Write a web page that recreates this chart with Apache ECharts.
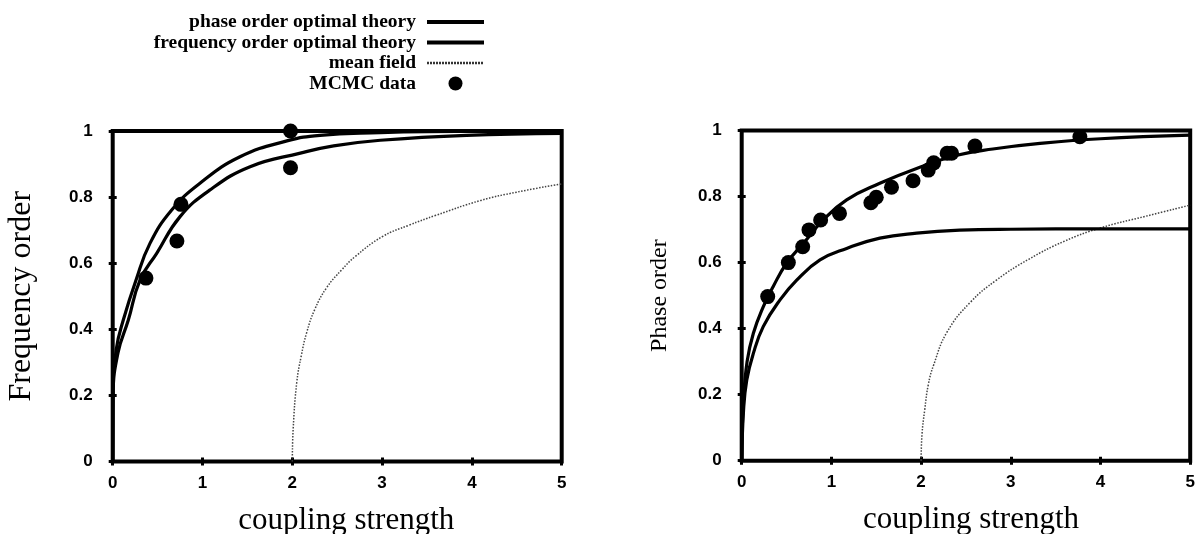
<!DOCTYPE html>
<html>
<head>
<meta charset="utf-8">
<script src="https://cdn.jsdelivr.net/npm/echarts@6/dist/echarts.min.js"></script>
<style>
html,body{margin:0;padding:0;background:#fff;}
#chart{width:1201px;height:534px;}
</style>
</head>
<body>
<div id="chart"></div>
<script>
// ---------- data ----------
const xTicks = [0, 1, 2, 3, 4, 5];
const yTicks = [0, 0.2, 0.4, 0.6, 0.8, 1];
const legendNames = ['phase order optimal theory', 'frequency order optimal theory', 'mean field', 'MCMC data'];
const xTitle = 'coupling strength';
const leftYTitle = 'Frequency order';
const rightYTitle = 'Phase order';

// Left panel (Frequency order)
const leftPhaseTheory = [[0,0],[0.003,0.2],[0.04,0.34],[0.118,0.428],[0.26,0.549],[0.415,0.66],[0.657,0.761],[0.972,0.842],[1.418,0.922],[1.94,0.97],[2.31,0.987],[2.98,0.995],[3.5,0.998],[5,1.0]];
const leftFreqTheory = [[0,0],[0.004,0.2],[0.06,0.33],[0.174,0.428],[0.304,0.549],[0.49,0.63],[0.75,0.741],[1.08,0.821],[1.53,0.892],[2.09,0.933],[2.46,0.955],[2.98,0.972],[3.94,0.987],[5,0.993]];
const leftMeanField = [[2.0,0],[2.01,0.1],[2.05,0.24],[2.1,0.32],[2.16,0.39],[2.25,0.46],[2.38,0.525],[2.55,0.58],[2.7,0.62],[3.0,0.68],[3.3,0.715],[3.6,0.745],[4.1,0.79],[4.5,0.815],[5,0.84]];
const leftMCMC = [[0.37,0.555],[0.715,0.667],[0.76,0.778],[1.98,1.0],[1.98,0.889]];

// Right panel (Phase order)
const rightPhaseTheory = [[0,0],[0.018,0.174],[0.06,0.3],[0.13,0.386],[0.24,0.466],[0.35,0.527],[0.5,0.598],[0.687,0.658],[0.91,0.729],[1.17,0.79],[1.54,0.84],[1.95,0.885],[2.4,0.925],[2.8,0.944],[3.3,0.96],[4.0,0.975],[5,0.986]];
const rightFreqTheory = [[0,0],[0.02,0.15],[0.056,0.244],[0.13,0.325],[0.24,0.406],[0.427,0.487],[0.613,0.547],[0.873,0.608],[1.17,0.643],[1.54,0.674],[1.95,0.689],[2.43,0.698],[3,0.701],[4,0.702],[5,0.702]];
const rightMeanField = [[2.0,0],[2.01,0.08],[2.04,0.153],[2.08,0.23],[2.14,0.29],[2.29,0.39],[2.55,0.48],[2.84,0.547],[3.2,0.61],[3.6,0.665],[4.0,0.705],[4.5,0.74],[5,0.774]];
const rightMCMC = [[0.29,0.497],[0.52,0.60],[0.68,0.648],[0.75,0.699],[0.88,0.729],[1.09,0.749],[1.44,0.781],[1.5,0.798],[1.67,0.828],[1.91,0.848],[2.08,0.88],[2.14,0.902],[2.29,0.931],[2.34,0.931],[2.6,0.953],[3.77,0.981]];

// ---------- chart ----------
const serif = "'Liberation Serif','Times New Roman',serif";
const tickFont = "'Liberation Sans Narrow','Liberation Sans',sans-serif";

const grids = [
  {left:112.7, top:131, width:449, height:330.5},
  {left:741.7, top:130.5, width:448.5, height:330.2}
];

function xAxisPair(gi, shift){
  const base = {type:'value', gridIndex:gi, min:0, max:5, interval:1,
    splitLine:{show:false}, axisLine:{show:false},
    axisTick:{show:true, inside:true, length:4, lineStyle:{color:'#000', width:3}}};
  return [
    Object.assign({}, base, {position:'bottom',
      axisLabel:{show:true, margin:13, color:'#000', fontSize:17, fontWeight:'bold', fontFamily:tickFont,
        formatter:v=>String(v)},
      name:xTitle, nameLocation:'middle', nameGap:44,
      nameTextStyle:{fontFamily:serif, fontSize:31, color:'#000', padding:[0,0,0,shift]}}),
    Object.assign({}, base, {position:'top', axisLabel:{show:false}})
  ];
}
function yAxisPair(gi, title, gap, fs){
  const base = {type:'value', gridIndex:gi, min:0, max:1, interval:0.2,
    splitLine:{show:false}, axisLine:{show:false},
    axisTick:{show:true, inside:true, length:4, lineStyle:{color:'#000', width:3}}};
  return [
    Object.assign({}, base, {position:'left',
      axisLabel:{show:true, margin:20, color:'#000', fontSize:17, fontWeight:'bold', fontFamily:tickFont,
        formatter:v=>String(+v.toFixed(1))},
      name:title, nameLocation:'middle', nameGap:gap,
      nameTextStyle:{fontFamily:serif, fontSize:fs, color:'#000'}}),
    Object.assign({}, base, {position:'right', axisLabel:{show:false}})
  ];
}

function theory(name, data, xi, yi){
  return {name, type:'line', data, xAxisIndex:xi, yAxisIndex:yi, showSymbol:false, symbol:'none',
    smooth:0.45, lineStyle:{color:'#000', width:3.2}, itemStyle:{color:'#000'}, z:3, silent:true};
}
function meanField(data, xi, yi){
  return {name:legendNames[2], type:'line', data, xAxisIndex:xi, yAxisIndex:yi, showSymbol:false, symbol:'none',
    smooth:0.45, lineStyle:{color:'#444', width:1.5, type:[1.5,1.5]}, itemStyle:{color:'#444'}, z:2, silent:true};
}
function mcmc(data, xi, yi){
  return {name:legendNames[3], type:'scatter', data, xAxisIndex:xi, yAxisIndex:yi, symbol:'circle', symbolSize:15,
    itemStyle:{color:'#000', opacity:1}, z:5, silent:true};
}

const hiddenSym = {color:'rgba(0,0,0,0)', opacity:0, borderWidth:0};
const option = {
  backgroundColor:'#fff',
  animation:false,
  grid: grids.map(g=>Object.assign({show:true, borderColor:'#000', borderWidth:4, backgroundColor:'transparent',
    containLabel:false, outerBoundsMode:'none'}, g)),
  legend:{
    orient:'vertical', right:715, top:12, align:'right', padding:0,
    itemWidth:57, itemHeight:14, itemGap:0.5,
    textStyle:{fontFamily:serif, fontSize:19.5, fontWeight:'bold', color:'#000', lineHeight:20, padding:[0,6,0,0]},
    data:[
      {name:legendNames[0], itemStyle:hiddenSym, lineStyle:{color:'#000', width:4, type:'solid'}},
      {name:legendNames[1], itemStyle:hiddenSym, lineStyle:{color:'#000', width:4, type:'solid'}},
      {name:legendNames[2], itemStyle:hiddenSym, lineStyle:{color:'#333', width:2.5, type:[2,1]}},
      {name:legendNames[3], icon:'circle', itemStyle:{color:'#000', opacity:1}}
    ],
    selectedMode:false
  },
  xAxis:[...xAxisPair(0, 18), ...xAxisPair(1, 10)],
  yAxis:[...yAxisPair(0, leftYTitle, 75, 32), ...yAxisPair(1, rightYTitle, 70, 24)],
  series:[
    theory(legendNames[0], leftPhaseTheory, 0, 0),
    theory(legendNames[1], leftFreqTheory, 0, 0),
    meanField(leftMeanField, 0, 0),
    mcmc(leftMCMC, 0, 0),
    theory(legendNames[0], rightPhaseTheory, 2, 2),
    theory(legendNames[1], rightFreqTheory, 2, 2),
    meanField(rightMeanField, 2, 2),
    mcmc(rightMCMC, 2, 2)
  ]
};
const chart = echarts.init(document.getElementById('chart'), null, {renderer:'canvas'});
chart.setOption(option);
</script>
</body>
</html>
